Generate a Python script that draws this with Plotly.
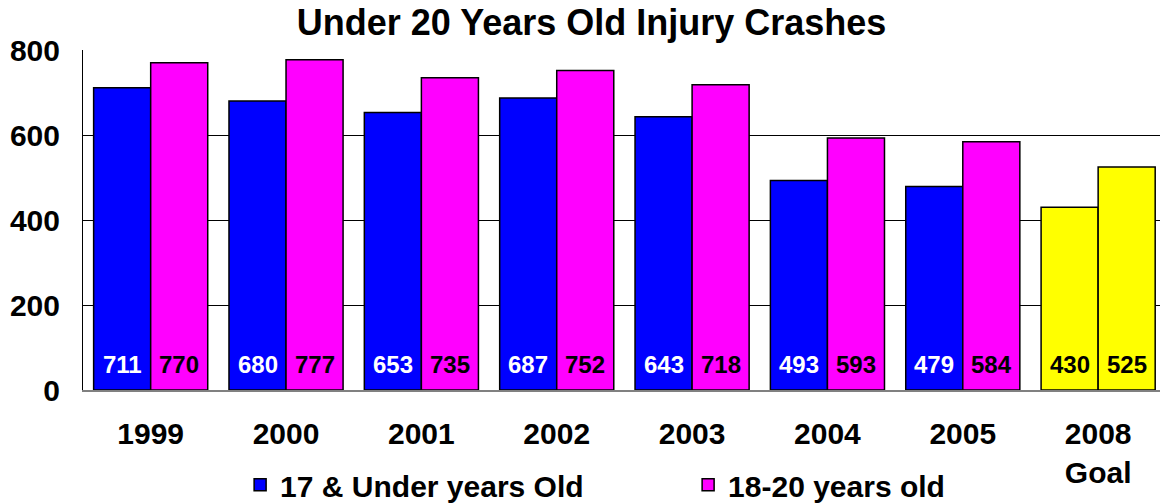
import plotly.graph_objects as go

categories = ["1999", "2000", "2001", "2002", "2003", "2004", "2005", "2008<br>Goal"]
under17 = [711, 680, 653, 687, 643, 493, 479, 430]
age18_20 = [770, 777, 735, 752, 718, 593, 584, 525]
is_goal = [False, False, False, False, False, False, False, True]

BLUE = "#0000FF"
MAGENTA = "#FF00FF"
YELLOW = "#FFFF00"
FONT = "Liberation Sans, Arial, sans-serif"

x = list(range(len(categories)))
c1 = [YELLOW if g else BLUE for g in is_goal]
c2 = [YELLOW if g else MAGENTA for g in is_goal]
t1 = ["black" if g else "white" for g in is_goal]

fig = go.Figure()
fig.add_trace(go.Bar(x=x, y=under17, name="<b>17 & Under years Old</b>",
                     marker=dict(color=c1, line=dict(color="black", width=1.5))))
fig.add_trace(go.Bar(x=x, y=age18_20, name="<b>18-20 years old</b>",
                     marker=dict(color=c2, line=dict(color="black", width=1.5))))

bargap = 0.157
half = (1 - bargap) / 4
for i, v in enumerate(under17):
    fig.add_annotation(x=x[i] - half, y=0, yanchor="bottom", yshift=10, showarrow=False,
                       text=f"<b>{v}</b>", font=dict(family=FONT, size=24, color=t1[i]))
for i, v in enumerate(age18_20):
    fig.add_annotation(x=x[i] + half, y=0, yanchor="bottom", yshift=10, showarrow=False,
                       text=f"<b>{v}</b>", font=dict(family=FONT, size=24, color="black"))

ticktext = ["<br>".join(f"<b>{part}</b>" for part in c.split("<br>")) for c in categories]

fig.update_layout(
    width=1160, height=504,
    margin=dict(l=83, r=0, t=50, b=114, autoexpand=False),
    paper_bgcolor="white", plot_bgcolor="white",
    barmode="group", bargap=bargap, bargroupgap=0,
    title=dict(text="<b>Under 20 Years Old Injury Crashes</b>", xref="container", x=0.51,
               xanchor="center", y=0.955, yanchor="middle",
               font=dict(family=FONT, size=36, color="black")),
    font=dict(family=FONT, color="black"),
    xaxis=dict(range=[-0.5, 7.457], tickvals=x, ticktext=ticktext,
               tickfont=dict(family=FONT, size=30), showgrid=False, zeroline=False, automargin=False,
               showline=True, linecolor="#808080", linewidth=1.5, ticks="", ticklabelstandoff=16),
    yaxis=dict(range=[0, 800], tickvals=[0, 200, 400, 600, 800],
               ticktext=["<b>0</b>", "<b>200</b>", "<b>400</b>", "<b>600</b>", "<b>800</b>"],
               tickfont=dict(family=FONT, size=30), showgrid=True, gridcolor="black", gridwidth=1,
               zeroline=False, showline=True, linecolor="black", linewidth=1, ticks="",
               automargin=False, ticklabelstandoff=16),
    legend=dict(orientation="h", xref="container", yref="container", x=0.207, xanchor="left",
                y=0.038, yanchor="middle", bgcolor="rgba(0,0,0,0)",
                font=dict(family=FONT, size=30), entrywidth=403, entrywidthmode="pixels",
                itemwidth=30, traceorder="normal"),
)

fig.write_html("out.html", config={"displayModeBar": False},
               post_script="document.body.style.margin='0';document.body.style.overflow='hidden';")
